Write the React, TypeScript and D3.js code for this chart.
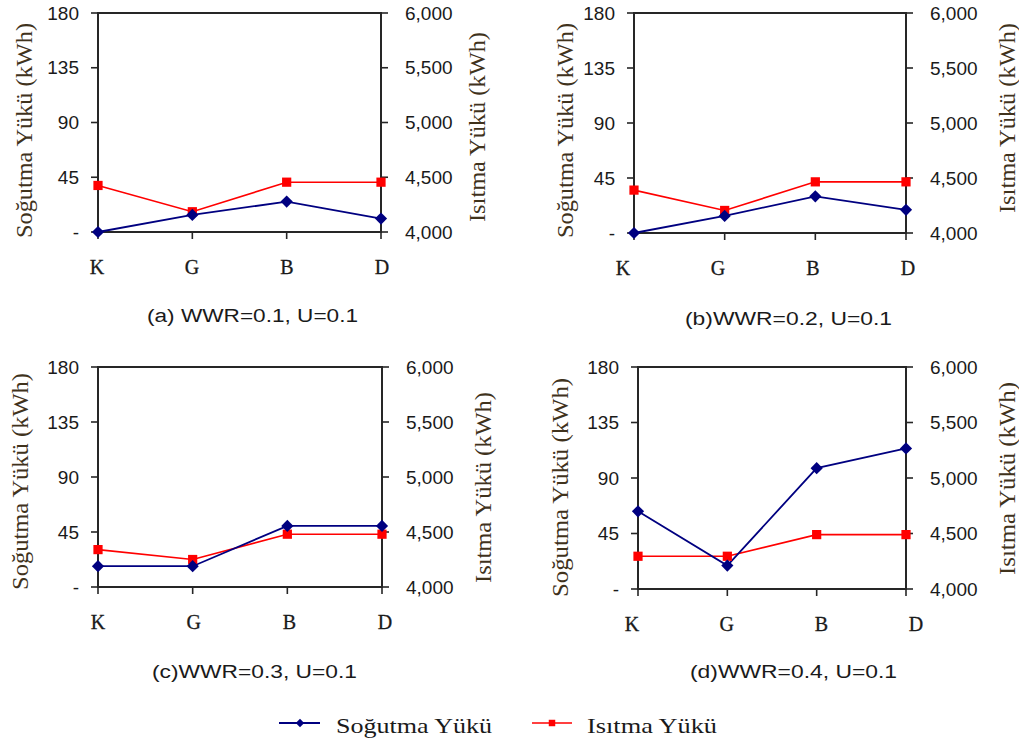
import React from "react";
import * as d3 from "d3";

const categories = ["K", "G", "B", "D"];
const coolingTicks = [0, 45, 90, 135, 180];
const heatingTicks = [4000, 4500, 5000, 5500, 6000];

const coolingA = [0, 14, 25, 11];
const coolingB = [0, 14, 30, 19];
const coolingC = [17, 17, 50, 50];
const coolingD = [63, 19, 98, 114];

const heatingA = [4425, 4185, 4455, 4455];
const heatingB = [4390, 4205, 4465, 4465];
const heatingC = [4340, 4250, 4480, 4480];
const heatingD = [4295, 4295, 4490, 4490];

const panelTitles = [
  "(a) WWR=0.1, U=0.1",
  "(b)WWR=0.2, U=0.1",
  "(c)WWR=0.3, U=0.1",
  "(d)WWR=0.4, U=0.1",
];

const coolingName = "Soğutma Yükü";
const heatingName = "Isıtma Yükü";
const leftAxisTitle = "Soğutma Yükü (kWh)";
const rightAxisTitle = "Isıtma Yükü (kWh)";

const NAVY = "#000080";
const RED = "#ff0000";
const AXIS = "#262626";
const TITLE_COLOR = "#40321c";

const layouts = [
  { x0: 98, x1: 381, y0: 13, y1: 232, tx: [147, 358], ty: 322, lx: 24, ly: [23, 238], rx: 477, ry: [32, 222], lab: [97, 382] },
  { x0: 634, x1: 906, y0: 13, y1: 233, tx: [685, 892], ty: 325, lx: 565, ly: [23, 238], rx: 1007, ry: [23, 213], lab: [623, 908] },
  { x0: 98, x1: 382, y0: 367, y1: 587, tx: [152, 357], ty: 678, lx: 20, ly: [373, 590], rx: 483, ry: [392, 583], lab: [98, 385] },
  { x0: 638, x1: 906, y0: 367, y1: 589, tx: [690, 897], ty: 678, lx: 560, ly: [378, 597], rx: 1007, ry: [382, 575], lab: [632, 916] },
];

const coolingSeries = [coolingA, coolingB, coolingC, coolingD];
const heatingSeries = [heatingA, heatingB, heatingC, heatingD];

const diamond = d3.symbol().type(d3.symbolDiamond2).size(95);
const square = d3.symbol().type(d3.symbolSquare).size(85);

function fmtCool(v: number) {
  return v === 0 ? "-" : String(v);
}
const fmtHeat = d3.format(",");

function Panel({ i }: { i: number }) {
  const L = layouts[i];
  const x = d3.scalePoint<string>().domain(categories).range([L.x0, L.x1]).padding(0);
  const xl = d3.scalePoint<string>().domain(categories).range([L.lab[0], L.lab[1]]).padding(0);
  const yc = d3.scaleLinear().domain([0, 180]).range([L.y1, L.y0]);
  const yh = d3.scaleLinear().domain([4000, 6000]).range([L.y1, L.y0]);
  const cool = coolingSeries[i];
  const heat = heatingSeries[i];
  const lineC = d3
    .line<number>()
    .x((_, j) => x(categories[j])!)
    .y((d) => yc(d));
  const lineH = d3
    .line<number>()
    .x((_, j) => x(categories[j])!)
    .y((d) => yh(d));
  const lcy = (L.ly[0] + L.ly[1]) / 2;
  const rcy = (L.ry[0] + L.ry[1]) / 2;
  return (
    <g>
      <rect x={L.x0} y={L.y0} width={L.x1 - L.x0} height={L.y1 - L.y0} fill="none" stroke={AXIS} strokeWidth={2} />
      {coolingTicks.map((t) => (
        <g key={"l" + t}>
          <line x1={L.x0 - 7} x2={L.x0} y1={yc(t)} y2={yc(t)} stroke={AXIS} strokeWidth={1.6} />
          <text x={L.x0 - 19} y={yc(t)} dy="0.35em" textAnchor="end" fontFamily="Liberation Sans, Arial, sans-serif" fontSize={19} fill="#1a1a1a">
            {fmtCool(t)}
          </text>
        </g>
      ))}
      {heatingTicks.map((t) => (
        <g key={"r" + t}>
          <line x1={L.x1} x2={L.x1 + 7} y1={yh(t)} y2={yh(t)} stroke={AXIS} strokeWidth={1.6} />
          <text x={L.x1 + 24} y={yh(t)} dy="0.35em" textAnchor="start" fontFamily="Liberation Sans, Arial, sans-serif" fontSize={19} fill="#1a1a1a">
            {fmtHeat(t)}
          </text>
        </g>
      ))}
      {categories.map((c) => (
        <g key={c}>
          <line x1={x(c)} x2={x(c)} y1={L.y1} y2={L.y1 + 7} stroke={AXIS} strokeWidth={1.6} />
          <text x={xl(c)} y={L.y1 + 42} textAnchor="middle" fontFamily="Liberation Serif, Times New Roman, serif" fontSize={20} fill="#1a1a1a" stroke="#1a1a1a" strokeWidth={0.3}>
            {c}
          </text>
        </g>
      ))}
      <path d={lineH(heat) || ""} fill="none" stroke={RED} strokeWidth={1.6} />
      <path d={lineC(cool) || ""} fill="none" stroke={NAVY} strokeWidth={1.8} />
      {heat.map((v, j) => (
        <path key={"h" + j} d={square() || ""} transform={`translate(${x(categories[j])},${yh(v)})`} fill={RED} />
      ))}
      {cool.map((v, j) => (
        <path key={"c" + j} d={diamond() || ""} transform={`translate(${x(categories[j])},${yc(v)})`} fill={NAVY} />
      ))}
      <text
        transform={`translate(${L.lx},${lcy}) rotate(-90)`}
        dy="0.35em"
        textAnchor="middle"
        fontFamily="Liberation Serif, Times New Roman, serif"
        fontSize={23}
        fill={TITLE_COLOR}
        textLength={L.ly[1] - L.ly[0]}
        lengthAdjust="spacingAndGlyphs"
      >
        {leftAxisTitle}
      </text>
      <text
        transform={`translate(${L.rx},${rcy}) rotate(-90)`}
        dy="0.35em"
        textAnchor="middle"
        fontFamily="Liberation Serif, Times New Roman, serif"
        fontSize={23}
        fill={TITLE_COLOR}
        textLength={L.ry[1] - L.ry[0]}
        lengthAdjust="spacingAndGlyphs"
      >
        {rightAxisTitle}
      </text>
      <text
        x={L.tx[0]}
        y={L.ty}
        fontFamily="Liberation Sans, Arial, sans-serif"
        fontSize={18}
        fill="#1a1a1a"
        textLength={L.tx[1] - L.tx[0]}
        lengthAdjust="spacingAndGlyphs"
      >
        {panelTitles[i]}
      </text>
    </g>
  );
}

export default function App() {
  const legendY = 723;
  return (
    <svg width={1019} height={738} style={{ display: "block", position: "absolute", left: 0, top: 0, background: "#fff" }}>
      <rect x={0} y={0} width={1019} height={738} fill="#fff" />
      {layouts.map((_, i) => (
        <Panel key={i} i={i} />
      ))}
      <g>
        <line x1={279} x2={320} y1={legendY} y2={legendY} stroke={NAVY} strokeWidth={1.8} />
        <path d={d3.symbol().type(d3.symbolDiamond2).size(45)() || ""} transform={`translate(300,${legendY})`} fill={NAVY} />
        <text x={336} y={legendY + 3} dy="0.35em" fontFamily="Liberation Serif, Times New Roman, serif" fontSize={21} fill="#1a1a1a" textLength={156} lengthAdjust="spacingAndGlyphs">
          {coolingName}
        </text>
        <line x1={532} x2={572} y1={legendY} y2={legendY} stroke={RED} strokeWidth={1.6} />
        <path d={d3.symbol().type(d3.symbolSquare).size(42)() || ""} transform={`translate(552,${legendY})`} fill={RED} />
        <text x={587} y={legendY + 3} dy="0.35em" fontFamily="Liberation Serif, Times New Roman, serif" fontSize={21} fill="#1a1a1a" textLength={130} lengthAdjust="spacingAndGlyphs">
          {heatingName}
        </text>
      </g>
    </svg>
  );
}
